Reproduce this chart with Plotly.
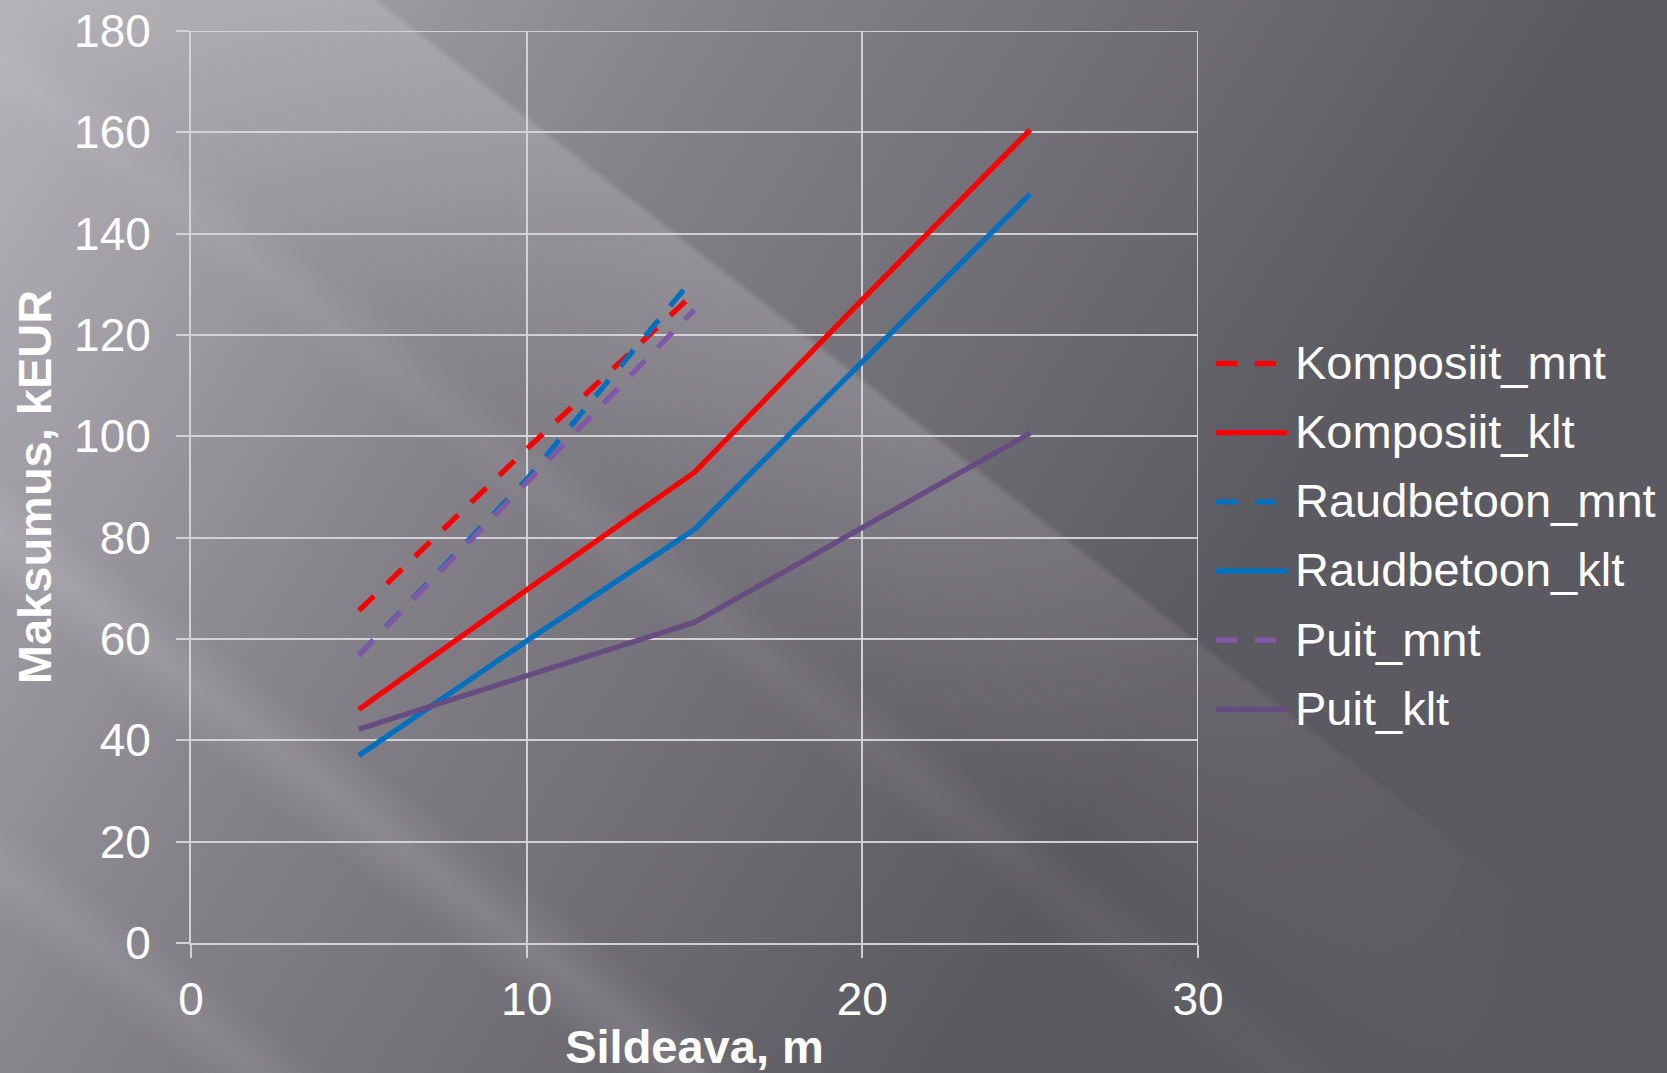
import base64
import plotly.graph_objects as go

# ---- data -------------------------------------------------------------
span_m = [5, 10, 15, 20, 25]

komposiit_mnt = [65.6, 97.5, 128.3, None, None]
komposiit_klt = [46.1, 69.7, 92.9, 127.0, 160.5]
raudbetoon_mnt = [56.8, 91.5, 131.5, None, None]
raudbetoon_klt = [37.0, 59.6, 81.6, 114.8, 147.8]
puit_mnt = [56.8, 91.0, 125.0, None, None]
puit_klt = [42.2, 52.8, 63.3, 82.0, 100.6]

series_names = ["Komposiit_mnt", "Komposiit_klt", "Raudbetoon_mnt",
                "Raudbetoon_klt", "Puit_mnt", "Puit_klt"]
series_values = [komposiit_mnt, komposiit_klt, raudbetoon_mnt,
                 raudbetoon_klt, puit_mnt, puit_klt]
series_colors = ["#ff0000", "#ff0000", "#0070c0", "#0070c0", "#7f58a8", "#664c80"]
series_dashed = [True, False, True, False, True, False]

x_ticks = [0, 10, 20, 30]
y_ticks = [0, 20, 40, 60, 80, 100, 120, 140, 160, 180]

# ---- geometry ---------------------------------------------------------
W, H = 1667, 1073
ML, MR, MT, MB = 191, 469, 31, 130
PW, PH = W - ML - MR, H - MT - MB
DASH = "21px,18px"
LW = 5.3
FONT = "Liberation Sans, Arial, sans-serif"
GRID = "rgba(214,214,216,0.95)"


def px_x(p):
    return (p - ML) / PW


def px_y(p):
    return (H - MB - p) / PH


# ---- slide-style background (grey gradient with diagonal light streaks) --
bg_svg = f"""<svg xmlns="http://www.w3.org/2000/svg" width="{W}" height="{H}" viewBox="0 0 {W} {H}" preserveAspectRatio="none">
<defs>
<linearGradient id="base" gradientUnits="userSpaceOnUse" x1="0" y1="0" x2="1150" y2="720">
<stop offset="0" stop-color="#b6b3b9"/>
<stop offset="0.45" stop-color="#85828a"/>
<stop offset="1" stop-color="#5c5a61"/>
</linearGradient>
<linearGradient id="b1" x1="0" y1="0" x2="0" y2="1">
<stop offset="0" stop-color="#fff" stop-opacity="0"/>
<stop offset="0.03" stop-color="#fff" stop-opacity="0.16"/>
<stop offset="1" stop-color="#fff" stop-opacity="0"/>
</linearGradient>
<linearGradient id="soft" x1="0" y1="0" x2="0" y2="1">
<stop offset="0" stop-color="#fff" stop-opacity="0"/>
<stop offset="0.5" stop-color="#fff" stop-opacity="1"/>
<stop offset="1" stop-color="#fff" stop-opacity="0"/>
</linearGradient>
<linearGradient id="fadeR" gradientUnits="userSpaceOnUse" x1="0" y1="0" x2="{W}" y2="0">
<stop offset="0" stop-color="#fff" stop-opacity="1"/>
<stop offset="0.55" stop-color="#fff" stop-opacity="1"/>
<stop offset="0.92" stop-color="#fff" stop-opacity="0"/>
</linearGradient>
<mask id="m" maskUnits="userSpaceOnUse" x="0" y="0" width="{W}" height="{H}">
<rect x="0" y="0" width="{W}" height="{H}" fill="url(#fadeR)"/>
</mask>
</defs>
<rect x="0" y="0" width="{W}" height="{H}" fill="url(#base)"/>
<g mask="url(#m)">
<g transform="rotate(38)">
<rect x="-1500" y="-235" width="4500" height="235" fill="url(#b1)"/>
<rect x="-1500" y="10" width="4500" height="80" fill="url(#soft)" opacity="0.06"/>
<rect x="-1500" y="370" width="4500" height="100" fill="url(#soft)" opacity="0.12"/>
<rect x="-1500" y="640" width="4500" height="90" fill="url(#soft)" opacity="0.09"/>
</g>
</g>
</svg>"""
bg_uri = "data:image/svg+xml;base64," + base64.b64encode(bg_svg.encode()).decode()

fig = go.Figure()

for name, vals, color, dashed in zip(series_names, series_values,
                                     series_colors, series_dashed):
    fig.add_trace(go.Scatter(
        x=span_m, y=vals, mode="lines", name=name,
        line=dict(color=color, width=LW, dash=DASH if dashed else "solid"),
        showlegend=False,
    ))

fig.add_layout_image(
    source=bg_uri, xref="paper", yref="paper",
    x=-ML / PW, y=1 + MT / PH, sizex=W / PW, sizey=H / PH,
    xanchor="left", yanchor="top", sizing="stretch", layer="below",
)

# outer gridlines at the top (180) and right (30) edges of the plot
fig.add_shape(type="line", xref="x", yref="y", x0=0, x1=x_ticks[-1],
              y0=y_ticks[-1], y1=y_ticks[-1], layer="below",
              line=dict(color=GRID, width=2))
fig.add_shape(type="line", xref="x", yref="y", x0=x_ticks[-1], x1=x_ticks[-1],
              y0=0, y1=y_ticks[-1], layer="below",
              line=dict(color=GRID, width=2))

# legend drawn at the right of the plot
row_y = [363.5, 432.7, 501.9, 571.0, 640.2, 709.3]
for name, color, dashed, ry in zip(series_names, series_colors, series_dashed, row_y):
    fig.add_shape(
        type="line", xref="paper", yref="paper",
        x0=px_x(1216), x1=px_x(1276 if dashed else 1287),
        y0=px_y(ry), y1=px_y(ry),
        line=dict(color=color, width=LW, dash=DASH if dashed else "solid"),
    )
    fig.add_annotation(
        text=name, xref="paper", yref="paper",
        x=px_x(1293), y=px_y(ry - 1), xanchor="left", yanchor="middle",
        showarrow=False, font=dict(family=FONT, size=47, color="white"),
    )

fig.update_layout(
    width=W, height=H,
    margin=dict(l=ML, r=MR, t=MT, b=MB, pad=0, autoexpand=False),
    paper_bgcolor="#7a777e",
    plot_bgcolor="rgba(0,0,0,0)",
    font=dict(family=FONT, color="white"),
    showlegend=False,
)

fig.update_xaxes(
    range=[0, 30], tickvals=x_ticks, ticktext=[str(v) for v in x_ticks],
    automargin=False,
    showgrid=True, gridcolor=GRID, gridwidth=2,
    showline=True, linecolor=GRID, linewidth=2, zeroline=False,
    ticks="outside", ticklen=13, tickwidth=2, tickcolor=GRID,
    ticklabelstandoff=2,
    tickfont=dict(family=FONT, size=46, color="white"),
    title=dict(text="<b>Sildeava, m</b>", standoff=24,
               font=dict(family=FONT, size=47, color="white")),
)
fig.update_yaxes(
    range=[0, 180], tickvals=y_ticks, ticktext=[str(v) for v in y_ticks],
    automargin=False,
    showgrid=True, gridcolor=GRID, gridwidth=2,
    showline=True, linecolor=GRID, linewidth=2, zeroline=False,
    ticks="outside", ticklen=13, tickwidth=2, tickcolor=GRID,
    ticklabelstandoff=16,
    tickfont=dict(family=FONT, size=46, color="white"),
    title=dict(text="<b>Maksumus, kEUR</b>", standoff=8,
               font=dict(family=FONT, size=47, color="white")),
)

fig.write_html("out.html")
